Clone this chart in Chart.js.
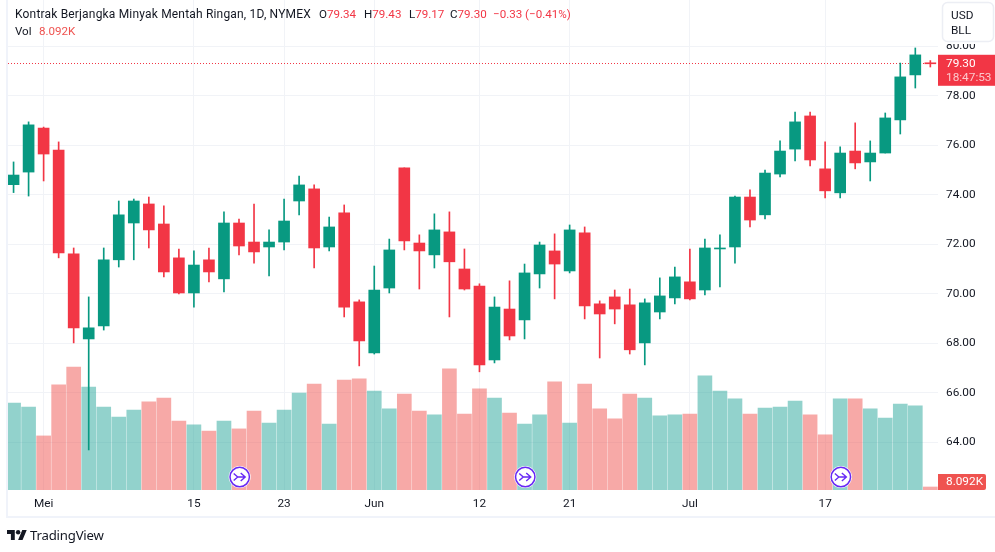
<!DOCTYPE html>
<html lang="id">
<head>
<meta charset="utf-8">
<title>Kontrak Berjangka Minyak Mentah Ringan</title>
<script src="https://cdn.jsdelivr.net/npm/chart.js@4"></script>
<style>
html,body{margin:0;padding:0;background:#fff;width:995px;height:552px;overflow:hidden}
#wrap{position:relative;width:995px;height:552px}
canvas{position:absolute;left:0;top:0}
.t{position:absolute;font:11.6px Roboto,sans-serif;color:#131722;white-space:pre;line-height:14px}
.r{color:#F23645}
.v{color:#ef5350}
#tv{position:absolute;left:7px;top:529px;width:20px;height:12px}
#tvt{position:absolute;left:30px;top:527px;font:13.2px "Noto Sans",sans-serif;color:#131722;line-height:16px;letter-spacing:-.2px}
</style>
</head>
<body>
<div id="wrap">
<canvas id="c" width="995" height="552"></canvas>
<div class="t" style="left:15px;top:7px;font-size:12px;letter-spacing:.18px">Kontrak Berjangka Minyak Mentah Ringan, 1D, NYMEX</div>
<div class="t" style="left:319px;top:7px">O<span class="r">79.34</span></div>
<div class="t" style="left:364px;top:7px">H<span class="r">79.43</span></div>
<div class="t" style="left:409px;top:7px">L<span class="r">79.17</span></div>
<div class="t" style="left:450px;top:7px">C<span class="r">79.30</span></div>
<div class="t r" style="left:493px;top:7px">−0.33 (−0.41%)</div>
<div class="t" style="left:15px;top:24px">Vol</div>
<div class="t v" style="left:39px;top:24px">8.092K</div>
<svg id="tv" viewBox="0 3 36 20"><path fill="#131722" d="M14 22H7V11H0V4h14v18zM28 22h-8l7.5-18h8L28 22z"/><circle fill="#131722" cx="20" cy="8" r="4"/></svg>
<div id="tvt">TradingView</div>
</div>
<script>
const categories = ['27 Apr','28 Apr','1 Mei','2 Mei','3 Mei','4 Mei','5 Mei','8 Mei','9 Mei','10 Mei','11 Mei','12 Mei','15 Mei','16 Mei','17 Mei','18 Mei','19 Mei','22 Mei','23 Mei','24 Mei','25 Mei','26 Mei','30 Mei','31 Mei','1 Jun','2 Jun','5 Jun','6 Jun','7 Jun','8 Jun','9 Jun','12 Jun','13 Jun','14 Jun','15 Jun','16 Jun','20 Jun','21 Jun','22 Jun','23 Jun','26 Jun','27 Jun','28 Jun','29 Jun','30 Jun','3 Jul','5 Jul','6 Jul','7 Jul','10 Jul','11 Jul','12 Jul','13 Jul','14 Jul','17 Jul','18 Jul','19 Jul','20 Jul','21 Jul','24 Jul','25 Jul','26 Jul'];
const opens  = [74.41,74.92,76.70,75.81,71.61,68.17,68.70,71.37,72.86,73.63,72.82,71.45,70.03,71.37,70.60,72.86,72.09,71.89,72.09,73.75,74.24,71.89,73.27,69.67,67.60,70.23,75.09,72.05,71.57,72.50,71.00,70.31,67.32,69.38,68.94,70.80,71.73,70.92,72.46,69.59,69.87,69.55,68.01,69.26,69.83,70.48,70.15,71.81,71.89,73.91,73.19,74.84,75.85,77.19,75.05,74.08,75.77,75.33,75.69,77.03,78.85,79.34];
const highs  = [75.33,76.95,76.74,76.14,71.85,69.87,71.85,73.75,73.83,73.91,73.55,71.81,71.73,71.85,73.31,73.02,73.63,72.58,73.83,74.76,74.40,73.10,73.59,69.75,71.12,72.21,75.09,72.38,73.23,73.31,71.81,70.40,69.87,70.52,71.20,72.09,72.42,72.78,72.70,69.71,70.15,70.19,69.79,70.64,71.08,71.81,72.21,72.38,73.95,74.20,75.00,76.18,77.35,77.35,76.14,75.94,76.91,76.18,77.31,79.33,79.94,79.43];
const lows   = [74.09,73.95,74.56,71.45,68.01,63.68,68.53,71.08,71.37,71.85,70.68,69.99,69.46,70.48,70.07,71.57,71.24,70.72,71.77,73.19,71.04,71.73,69.06,67.08,67.56,70.03,71.77,70.19,71.04,69.06,70.15,66.84,67.20,68.13,68.17,70.23,69.79,70.84,68.98,67.40,68.78,67.56,67.12,68.98,69.59,69.75,69.95,70.27,71.24,72.70,73.02,74.72,75.37,75.17,73.87,73.87,75.05,74.56,75.69,76.46,78.32,79.17];
const closes = [74.80,76.83,75.65,71.65,68.62,68.62,71.37,73.19,73.75,72.58,70.88,70.03,71.16,70.88,72.86,71.93,71.69,72.09,72.94,74.40,71.85,72.70,69.46,68.09,70.15,71.77,72.13,71.73,72.58,71.29,70.19,67.12,69.46,68.29,70.84,71.97,71.20,72.58,69.51,69.18,69.38,67.73,69.63,69.91,70.68,69.79,71.85,71.85,73.91,72.98,74.88,75.77,76.95,75.41,74.16,75.69,75.29,75.69,77.11,78.77,79.66,79.30];
const volumes = [235,224,146,284,332,278,224,197,216,238,248,186,176,159,186,165,213,181,216,262,286,178,297,300,267,219,259,213,203,327,205,273,248,208,178,203,292,181,286,219,192,259,248,200,203,205,308,267,246,205,221,224,240,203,149,246,246,219,194,232,227,8.092];
const yTickValues = [64,66,68,70,72,74,76,78,80];
const xTickIndex = [2,12,18,24,31,37,45,54];
const xTickLabels = ['Mei','15','23','Jun','12','21','Jul','17'];
const eventIndex = [15,34,55];
const lastPrice = 79.30;
const lastVolumeLabel = '8.092K';
const countdown = '18:47:53';

const UP = '#089981', DOWN = '#F23645';
const VUP = 'rgba(38,166,154,0.5)', VDOWN = 'rgba(239,83,80,0.5)';
const FONT = 'Roboto, sans-serif';
const isUp = i => closes[i] >= opens[i];
const candleColors = categories.map((_, i) => isUp(i) ? UP : DOWN);
const volumeColors = categories.map((_, i) => isUp(i) ? VUP : VDOWN);

const overlay = {
  id: 'overlay',
  beforeDatasetsDraw(chart) {
    const { ctx, chartArea: a, scales: { y } } = chart;
    const py = y.getPixelForValue(lastPrice);
    ctx.save();
    ctx.strokeStyle = DOWN; ctx.lineWidth = 1; ctx.setLineDash([1, 2]);
    ctx.beginPath(); ctx.moveTo(a.left, Math.round(py) - .5); ctx.lineTo(a.right, Math.round(py) - .5); ctx.stroke();
    ctx.restore();
  },
  afterDraw(chart) {
    const { ctx, chartArea: a, scales: { x, y, v } } = chart;
    ctx.save();
    // frame
    ctx.fillStyle = '#f0f3fa';
    ctx.fillRect(6, 0, 2, 518);
    ctx.fillRect(6, 516, 989, 2);
    // currency box
    ctx.fillStyle = '#fff';
    ctx.fillRect(940, 0, 55, 44);
    ctx.strokeStyle = '#eceef4'; ctx.lineWidth = 1.5;
    ctx.beginPath(); ctx.roundRect(942.5, 2.5, 51, 39, 5); ctx.fill(); ctx.stroke();
    ctx.fillStyle = '#131722'; ctx.font = '11.8px ' + FONT; ctx.textBaseline = 'middle'; ctx.textAlign = 'left';
    ctx.fillText('USD', 951, 16); ctx.fillText('BLL', 951, 31);
    // price tag
    const py = y.getPixelForValue(lastPrice);
    ctx.fillStyle = DOWN;
    ctx.fillRect(a.right, py - 9, 995 - a.right, 31);
    ctx.fillStyle = '#fff'; ctx.fillText(lastPrice.toFixed(2), 946, py);
    ctx.fillStyle = 'rgba(255,255,255,0.72)'; ctx.fillText(countdown, 946, py + 14);
    // volume tag
    ctx.fillStyle = '#ef5350';
    ctx.beginPath(); ctx.roundRect(a.right, a.bottom - 16, 48, 16, [0, 2, 2, 0]); ctx.fill();
    ctx.fillStyle = '#fff'; ctx.fillText(lastVolumeLabel, 946, a.bottom - 7.5);
    // event markers
    eventIndex.forEach(i => {
      const cx = x.getPixelForValue(i) + .7, cy = 477;
      ctx.fillStyle = '#fff'; ctx.beginPath(); ctx.arc(cx, cy, 11, 0, 7); ctx.fill();
      ctx.strokeStyle = '#6729f5'; ctx.lineWidth = 1.5;
      ctx.beginPath(); ctx.arc(cx, cy, 9.7, 0, 7); ctx.stroke();
      ctx.lineWidth = 1.4;
      ctx.beginPath();
      ctx.moveTo(cx - 2, cy); ctx.lineTo(cx + 5, cy);
      ctx.moveTo(cx + 1, cy - 4); ctx.lineTo(cx + 5.5, cy); ctx.lineTo(cx + 1, cy + 4);
      ctx.moveTo(cx - 6, cy - 3.5); ctx.lineTo(cx - 2, cy); ctx.lineTo(cx - 6, cy + 3.5);
      ctx.stroke();
    });
    ctx.restore();
  }
};

new Chart(document.getElementById('c'), {
  type: 'bar',
  plugins: [overlay],
  data: {
    labels: categories,
    datasets: [
      { label: 'Vol', yAxisID: 'v', order: 3, grouped: false, barThickness: 14,
        data: volumes.map((n, i) => ({ x: i, y: n })), backgroundColor: volumeColors },
      { label: 'Sumbu', yAxisID: 'y', order: 2, grouped: false, barThickness: 1,
        data: highs.map((h, i) => ({ x: i, y: [lows[i], h] })), backgroundColor: candleColors },
      { label: 'Badan', yAxisID: 'y', order: 1, grouped: false, barThickness: 11,
        data: opens.map((o, i) => ({ x: i, y: [o, closes[i]] })), backgroundColor: candleColors }
    ]
  },
  options: {
    responsive: false, animation: false, devicePixelRatio: 1,
    layout: { padding: { left: 8, right: 0, top: 0, bottom: 0 } },
    plugins: { legend: { display: false }, tooltip: { enabled: false } },
    scales: {
      x: {
        type: 'linear', min: -0.37, max: 61.51, position: 'bottom', offset: false,
        afterBuildTicks: s => { s.ticks = xTickIndex.map(value => ({ value })); },
        afterFit: s => { s.height = 62; s.paddingLeft = 0; s.paddingRight = 0; },
        grid: { color: '#f1f3f7', drawTicks: false, lineWidth: 1, offset: false },
        border: { display: false },
        ticks: {
          autoSkip: false, maxRotation: 0, padding: 7, color: '#131722',
          font: { family: FONT, size: 11.8 },
          callback: v => xTickLabels[xTickIndex.indexOf(v)]
        }
      },
      y: {
        type: 'linear', position: 'right', min: 62.06, max: 81.88,
        afterBuildTicks: s => { s.ticks = yTickValues.map(value => ({ value })); },
        afterFit: s => { s.width = 57; s.paddingTop = 0; s.paddingBottom = 0; },
        grid: { color: '#f1f3f7', drawTicks: false, lineWidth: 1 },
        border: { display: false },
        ticks: {
          padding: 8, color: '#131722', crossAlign: 'near',
          font: { family: FONT, size: 11.8 },
          callback: v => v.toFixed(2)
        }
      },
      v: { type: 'linear', display: false, min: 0, max: 1323 }
    }
  }
});
</script>
</body>
</html>
